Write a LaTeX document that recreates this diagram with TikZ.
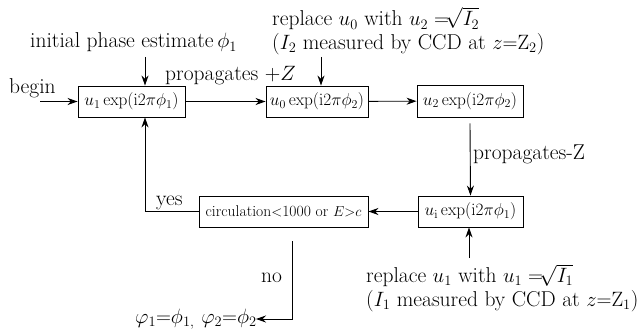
\documentclass[tikz,border=0pt]{standalone}
\usetikzlibrary{arrows.meta}
\begin{document}
\begin{tikzpicture}[x=1pt,y=-1pt,
  box/.style={draw,line width=0.9pt,inner sep=0pt,font=\fontsize{16.5}{18}\selectfont},
  lbl/.style={inner sep=0pt,anchor=base west,font=\fontsize{21.5}{25}\selectfont},
  arr/.style={line width=0.9pt,-{Stealth[length=10pt,width=7pt]}},
  ln/.style={line width=0.9pt}]
\useasboundingbox (0,0) rectangle (638,329);
% boxes
\node[box,minimum width=107pt,minimum height=31pt] (b1) at (131.5,101.5) {$u_1\exp(\mathrm{i}2\pi\phi_1)$};
\node[box,minimum width=102pt,minimum height=31pt] (b2) at (317,101.5) {$u_0\exp(\mathrm{i}2\pi\phi_2)$};
\node[box,minimum width=106pt,minimum height=32pt] (b3) at (470,101) {$u_2\exp(\mathrm{i}2\pi\phi_2)$};
\node[box,minimum width=105pt,minimum height=31pt] (b4) at (470.5,211.5) {$u_\mathrm{i}\exp(\mathrm{i}2\pi\phi_1)$};
\node[box,minimum width=169pt,minimum height=31pt,font=\fontsize{15.6}{18}\selectfont] (b5) at (283.5,211.5) {circulation{$<$}1000 or $E{>}c$};
% labels
\node[lbl] (begin) at (9,94) {begin};
\node[lbl] (init) at (30,48) {initial phase estimate\,$\phi_1$};
\node[lbl] (pz) at (165,81) {propagates +$Z$};
\node[lbl] (r2a) at (272,26) {replace $u_0$ with $u_2\;{=}\!\sqrt{\vphantom{I}\smash{I_2}}$};
\node[lbl] (r2b) at (272,49.5) {($I_2$ measured by CCD at $z{=}\mathrm{Z}_2$)};
\node[lbl] (mz) at (473,160) {propagates-Z};
\node[lbl] (yes) at (156,205) {yes};
\node[lbl] (no) at (261,282) {no};
\node[lbl,font=\fontsize{21}{24}\selectfont] (fin) at (135,323) {$\varphi_1{=}\phi_{1,}\,\,\varphi_2{=}\phi_2$};
\node[lbl] (r1a) at (366,282) {replace $u_1$ with $u_1\;{=}\!\sqrt{I_1}$};
\node[lbl] (r1b) at (366,306) {($I_1$ measured by CCD at $z{=}\mathrm{Z}_1$)};
% coordinates
\coordinate (bs) at (40,101.5);
\coordinate (i1) at (145,57);
\coordinate (i2) at (321,57);
\coordinate (c1) at (469,258);
\coordinate (y1) at (145,211.5);
\coordinate (n0) at (292,241);
\coordinate (n1) at (292,319);
\coordinate (n2) at (256,319);
% connectors
\draw[arr] (bs) -- (b1.west);
\draw[arr] (i1) -- (i1 |- b1.north);
\draw[arr] (i2) -- (i2 |- b2.north);
\draw[arr] (b1) -- (b2);
\draw[arr] (b2) -- (b3);
\draw[arr] ([yshift=-6pt]b3.south) -- (b4.north);
\draw[arr] (b4) -- (b5);
\draw[arr] (b5.west) -- (y1) -- (y1 |- b1.south);
\draw[arr] (c1) -- (c1 |- b4.south);
\draw[arr] (n0) -- (n1) -- (n2);
\end{tikzpicture}
\end{document}
